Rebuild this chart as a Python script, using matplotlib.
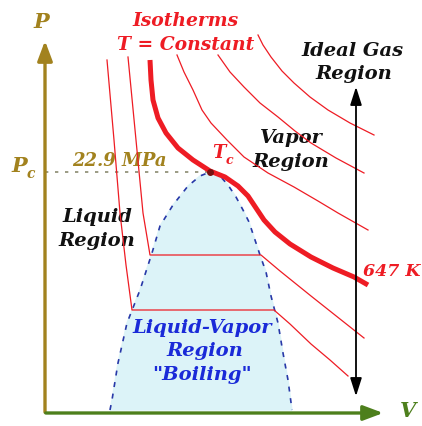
import matplotlib.pyplot as plt

# Schematic P-V diagram of water, coordinates in picture pixels (y grows downward)

dome_v = [110, 112, 118, 127, 140, 152, 160, 173, 188, 200, 210,
          220, 228, 236, 243, 249, 254, 260, 266, 271, 278, 283, 288, 292]
dome_p = [410, 400, 363, 323, 290, 253, 226, 205, 186, 176, 172,
          176, 185, 197, 210, 222, 237, 255, 272, 296, 323, 353, 380, 410]

iso_a_v = [107, 114, 120, 126, 132, 274, 290, 311, 330, 348]
iso_a_p = [60, 140, 213, 265, 310, 310, 324, 344, 360, 376]

iso_b_v = [128, 136, 143, 150, 261, 280, 311, 340, 364]
iso_b_p = [57, 140, 213, 255, 255, 271, 296, 319, 338]

iso_crit_v = [150, 151, 153, 158, 166, 178, 193, 210, 225, 238, 248, 256,
              264, 275, 290, 311, 333, 354, 368]
iso_crit_p = [60, 80, 100, 118, 133, 148, 160, 171, 177, 186, 196, 208,
              220, 232, 244, 257, 268, 277, 285]

iso_c_v = [177, 184, 193, 202, 211, 227, 244, 268, 294, 318, 338, 368]
iso_c_p = [55, 72, 90, 110, 123, 140, 157, 173, 187, 201, 213, 230]

iso_d_v = [218, 230, 244, 260, 278, 295, 311, 336, 364]
iso_d_p = [55, 72, 87, 103, 117, 131, 143, 158, 173]

iso_e_v = [258, 263, 271, 282, 294, 310, 328, 350, 374]
iso_e_p = [35, 45, 57, 71, 83, 97, 110, 123, 135]

crit_v, crit_p = 210, 172

RED = '#ee1c24'
GOLD = '#a2821e'
GREEN = '#4d7f1c'
BLUE = '#1a2ad8'
FONT = dict(family='DejaVu Serif', weight='bold', style='italic')

fig = plt.figure(figsize=(4.22, 4.26), dpi=100)
ax = fig.add_axes([0, 0, 1, 1])
ax.set_xlim(0, 422)
ax.set_ylim(426, 0)
ax.axis('off')

# two-phase dome
ax.fill(dome_v, dome_p, color='#dcf3f8', zorder=1)
ax.plot(dome_v, dome_p, color='#2838a8', lw=1.2, ls=(0, (3, 4)), zorder=3)

# isotherms
for v, p in [(iso_a_v, iso_a_p), (iso_b_v, iso_b_p), (iso_c_v, iso_c_p),
             (iso_d_v, iso_d_p), (iso_e_v, iso_e_p)]:
    ax.plot(v, p, color=RED, lw=0.9, zorder=4)
ax.plot(iso_crit_v, iso_crit_p, color=RED, lw=3.6, solid_capstyle='butt', zorder=5)
ax.plot(crit_v, crit_p, 'o', color='#7a1010', ms=4, zorder=6)

# critical pressure line
ax.plot([45, crit_v], [crit_p, crit_p], color='#8a8a70', lw=1.2,
        ls=(0, (2, 4)), zorder=2)

# axes with arrows
ax.annotate('', xy=(45, 38), xytext=(45, 415),
            arrowprops=dict(arrowstyle='-|>,head_length=1.2,head_width=0.45',
                            color=GOLD, lw=2.4), zorder=7)
ax.annotate('', xy=(386, 413), xytext=(43, 413),
            arrowprops=dict(arrowstyle='-|>,head_length=1.2,head_width=0.45',
                            color=GREEN, lw=2.4), zorder=7)

# ideal gas double arrow
ax.annotate('', xy=(356, 84), xytext=(356, 399),
            arrowprops=dict(arrowstyle='<|-|>,head_length=1.1,head_width=0.35',
                            color='black', lw=1.3), zorder=7)

# labels
ax.text(41, 22, 'P', color=GOLD, fontsize=15, ha='center', va='center', **FONT)
ax.text(408, 411, 'V', color=GREEN, fontsize=15, ha='center', va='center', **FONT)
ax.text(19, 166, 'P', color=GOLD, fontsize=15, ha='center', va='center', **FONT)
ax.text(31, 174, 'c', color=GOLD, fontsize=10, ha='center', va='center', **FONT)
ax.text(119, 161, '22.9 MPa', color=GOLD, fontsize=13, ha='center', va='center', **FONT)
ax.text(219, 153, 'T', color=RED, fontsize=13, ha='center', va='center', **FONT)
ax.text(229, 160, 'c', color=RED, fontsize=9, ha='center', va='center', **FONT)

ax.text(186, 21, 'Isotherms', color=RED, fontsize=13.5, ha='center', va='center', **FONT)
ax.text(186, 45, 'T = Constant', color=RED, fontsize=13.5, ha='center', va='center', **FONT)
ax.text(392, 272, '647 K', color=RED, fontsize=12.5, ha='center', va='center', **FONT)

ax.text(353, 51, 'Ideal Gas', color='#111111', fontsize=14, ha='center', va='center', **FONT)
ax.text(354, 74, 'Region', color='#111111', fontsize=14, ha='center', va='center', **FONT)
ax.text(291, 138, 'Vapor', color='#111111', fontsize=14, ha='center', va='center', **FONT)
ax.text(291, 162, 'Region', color='#111111', fontsize=14, ha='center', va='center', **FONT)
ax.text(97, 217, 'Liquid', color='#111111', fontsize=14, ha='center', va='center', **FONT)
ax.text(97, 241, 'Region', color='#111111', fontsize=14, ha='center', va='center', **FONT)

ax.text(202, 328, 'Liquid-Vapor', color=BLUE, fontsize=14, ha='center', va='center', zorder=8, **FONT)
ax.text(205, 351, 'Region', color=BLUE, fontsize=14, ha='center', va='center', zorder=8, **FONT)
ax.text(202, 375, '"Boiling"', color=BLUE, fontsize=14, ha='center', va='center', zorder=8, **FONT)

fig.savefig('out.png', dpi=100)
